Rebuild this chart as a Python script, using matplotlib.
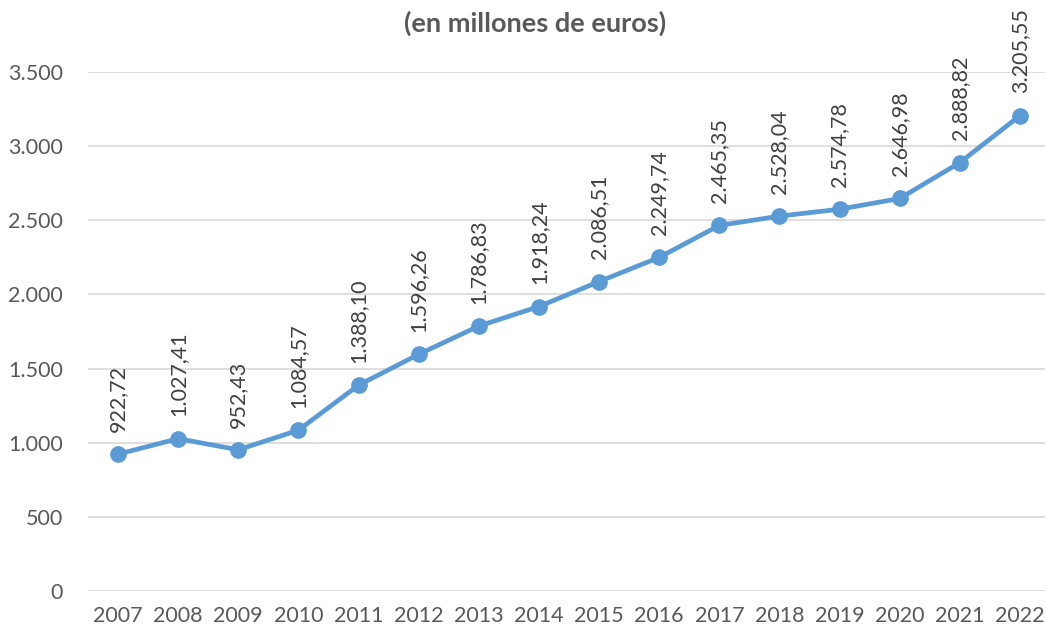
import matplotlib.pyplot as plt
from matplotlib.ticker import FuncFormatter

years = ['2007', '2008', '2009', '2010', '2011', '2012', '2013', '2014',
         '2015', '2016', '2017', '2018', '2019', '2020', '2021', '2022']
values = [922.72, 1027.41, 952.43, 1084.57, 1388.10, 1596.26, 1786.83, 1918.24,
          2086.51, 2249.74, 2465.35, 2528.04, 2574.78, 2646.98, 2888.82, 3205.55]
y_ticks = [0, 500, 1000, 1500, 2000, 2500, 3000, 3500]
title = '(en millones de euros)'


def es_number(v, decimals=2):
    s = f'{v:,.{decimals}f}'
    return s.replace(',', 'X').replace('.', ',').replace('X', '.')


plt.rcParams['font.family'] = ['Lato', 'DejaVu Sans']

fig = plt.figure(figsize=(10.45, 6.31), dpi=100)
ax = fig.add_axes([88 / 1045, 40 / 631, 962 / 1045, 519 / 631])

x = list(range(len(years)))
ax.plot(x, values, color='#5B9BD5', linewidth=3.4, marker='o', markersize=11,
        solid_capstyle='round', zorder=3)

for xi, v in zip(x, values):
    ax.annotate(es_number(v), (xi, v), xytext=(0, 16), textcoords='offset points',
                rotation=90, ha='center', va='bottom', fontsize=15.5,
                color='#404040', annotation_clip=False)

ax.set_xlim(-0.5, len(years) - 0.5)
ax.set_ylim(0, 3500)
ax.set_yticks(y_ticks)
ax.yaxis.set_major_formatter(FuncFormatter(lambda v, p: es_number(v, 0)))
ax.set_xticks(x)
ax.set_xticklabels(years)
ax.grid(axis='y', color='#D9D9D9', linewidth=1.2)
ax.set_axisbelow(True)
for s in ax.spines.values():
    s.set_visible(False)
ax.tick_params(axis='both', length=0, labelsize=15.5, colors='#595959')
ax.tick_params(axis='y', pad=18)
ax.tick_params(axis='x', pad=11)

fig.text(0.512, 0.963, title, ha='center', va='center', fontsize=19.5,
         fontweight='bold', color='#595959')

fig.savefig('out.png', dpi=100)
